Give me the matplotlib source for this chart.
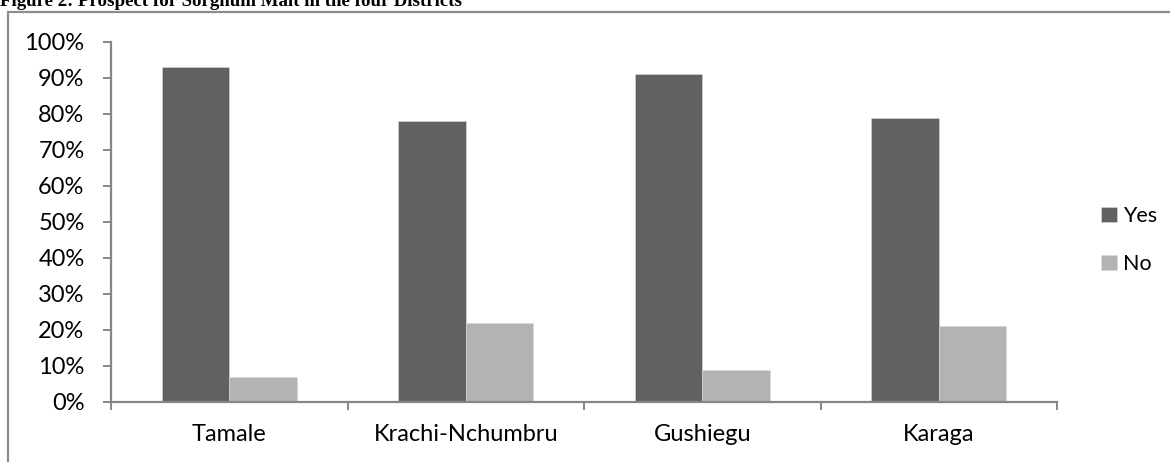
import numpy as np
import matplotlib
matplotlib.use("Agg")
import matplotlib.pyplot as plt
from matplotlib.patches import Rectangle
from matplotlib.ticker import FixedLocator, PercentFormatter

districts = ["Tamale", "Krachi-Nchumbru", "Gushiegu", "Karaga"]
yes_share = [93, 78, 91, 79]
no_share = [7, 22, 9, 21]
y_ticks = [0, 10, 20, 30, 40, 50, 60, 70, 80, 90, 100]

W, H = 1170, 462
fig = plt.figure(figsize=(W / 100, H / 100), dpi=100)
fig.patch.set_facecolor("white")

# frame around the chart area (runs off the right and bottom edges)
fig.patches.append(Rectangle((8 / W, -0.1), 1.2, 1 - 12 / H + 0.1,
                             transform=fig.transFigure, fill=False,
                             edgecolor="#8c8c8c", linewidth=1.6))

fig.text(0.0, 1 - 6 / H, "Figure 2: Prospect for Sorghum Malt in the four Districts",
         family="Liberation Serif", weight="bold", fontsize=13.6,
         ha="left", va="baseline")

ax = fig.add_axes([111 / W, 1 - 402 / H, (1057 - 111) / W, (402 - 42) / H])

x = np.arange(len(districts))
w = 0.285
ax.bar(x - w / 2, yes_share, width=w, color="#616161", edgecolor="#d9d9d9",
       linewidth=0.4, label="Yes")
ax.bar(x + w / 2, no_share, width=w, color="#b3b3b3", edgecolor="#d9d9d9",
       linewidth=0.4, label="No")

ax.set_xlim(-0.5, len(districts) - 0.5)
ax.set_ylim(0, 100)

spine_col = "#868686"
for s in ["top", "right"]:
    ax.spines[s].set_visible(False)
for s in ["left", "bottom"]:
    ax.spines[s].set_color(spine_col)
    ax.spines[s].set_linewidth(1.6)

fs = 17
ax.set_yticks(y_ticks)
ax.yaxis.set_major_formatter(PercentFormatter(decimals=0))
ax.tick_params(axis="y", direction="out", length=6, width=1.4, color=spine_col,
               pad=13, labelsize=fs)

ax.set_xticks(x)
ax.set_xticklabels(districts)
ax.tick_params(axis="x", which="major", length=0, pad=16, labelsize=fs)
ax.xaxis.set_minor_locator(FixedLocator(np.arange(-0.5, len(districts), 1.0)))
ax.tick_params(axis="x", which="minor", direction="out", length=6, width=1.4,
               color=spine_col)

for lab in ax.get_xticklabels() + ax.get_yticklabels():
    lab.set_family("Lato")

lfs = 15.5
leg = ax.legend(loc="center left", bbox_to_anchor=(1101 / W, 1 - 240 / H),
                bbox_transform=fig.transFigure, frameon=False,
                borderpad=0, borderaxespad=0,
                prop={"family": "Lato", "size": lfs},
                handlelength=0.75, handleheight=0.75, handletextpad=0.25,
                labelspacing=1.3)

fig.savefig("out.png", dpi=100, facecolor="white")
